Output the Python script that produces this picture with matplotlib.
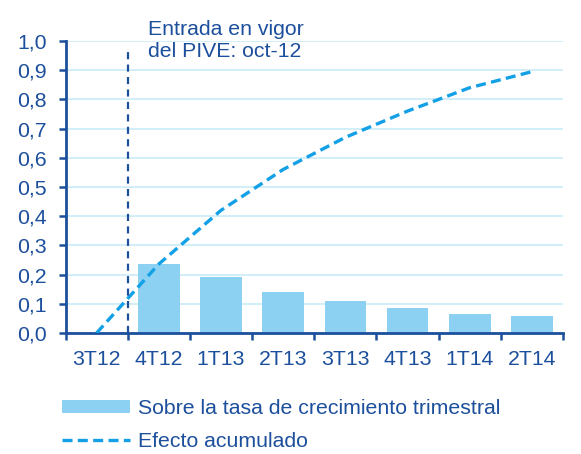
import matplotlib.pyplot as plt
from matplotlib.ticker import FixedLocator, FuncFormatter

plt.rcParams["font.family"] = ["Liberation Sans", "DejaVu Sans"]

# Datos
trimestres = ["3T12", "4T12", "1T13", "2T13", "3T13", "4T13", "1T14", "2T14"]
tasa_trimestral = [None, 0.236, 0.191, 0.140, 0.108, 0.084, 0.064, 0.057]
efecto_acumulado = [0.0, 0.236, 0.42, 0.56, 0.67, 0.76, 0.84, 0.895]

AZUL_TEXTO = "#1C4F9C"
AZUL_BARRA = "#8CD1F2"
AZUL_LINEA = "#13A0E6"
AZUL_GRID = "#C9EBF8"
FS = 15.3

fig = plt.figure(figsize=(5.81, 4.54), dpi=100)
ax = fig.add_axes([65.5 / 581, 1 - 333 / 454, (563 - 65.5) / 581, (333 - 41) / 454])

x = list(range(len(trimestres)))
xb = [i for i, v in zip(x, tasa_trimestral) if v is not None]
vb = [v for v in tasa_trimestral if v is not None]

barras = ax.bar(xb, vb, width=0.67, color=AZUL_BARRA, zorder=2,
                label="Sobre la tasa de crecimiento trimestral")
linea, = ax.plot(x, efecto_acumulado, color=AZUL_LINEA, lw=2.4, linestyle=(0, (3, 1.6)),
                 zorder=3, label="Efecto acumulado")

# Linea vertical: entrada en vigor del PIVE
ax.plot([0.5, 0.5], [0, 0.98], color=AZUL_TEXTO, lw=1.6,
        linestyle=(0, (3.2, 2.4)), zorder=3)
ax.text(0.82, 1.073, "Entrada en vigor\ndel PIVE: oct-12", color=AZUL_TEXTO,
        fontsize=FS, ha="left", va="top", linespacing=1.2,
        transform=ax.transData, clip_on=False)

ax.set_xlim(-0.5, len(trimestres) - 0.5)
ax.set_ylim(0, 1.0)
ax.set_yticks([i / 10 for i in range(11)])
ax.yaxis.set_major_formatter(FuncFormatter(lambda v, p: f"{v:.1f}".replace(".", ",")))
ax.yaxis.grid(True, color=AZUL_GRID, lw=1.2, zorder=0)
ax.set_axisbelow(True)

ax.set_xticks(x)
ax.set_xticklabels(trimestres)
ax.xaxis.set_minor_locator(FixedLocator([i - 0.5 for i in range(len(trimestres) + 1)]))
ax.tick_params(axis="x", which="major", length=0, pad=12, labelsize=FS, colors=AZUL_TEXTO)
ax.tick_params(axis="x", which="minor", length=5, width=1.8, color=AZUL_TEXTO, direction="out")
ax.tick_params(axis="y", length=5, width=1.8, color=AZUL_TEXTO, labelsize=FS,
               labelcolor=AZUL_TEXTO, pad=8.5)

for lado in ["top", "right"]:
    ax.spines[lado].set_visible(False)
for lado in ["left", "bottom"]:
    ax.spines[lado].set_color(AZUL_TEXTO)
    ax.spines[lado].set_linewidth(2)

fig.legend(handles=[barras, linea], loc="upper left",
           bbox_to_anchor=(62 / 581, 1 - 399 / 454), frameon=False,
           fontsize=FS, labelcolor=AZUL_TEXTO, handlelength=3.2, handleheight=0.5,
           handletextpad=0.38, labelspacing=0.64, borderaxespad=0, borderpad=0)

fig.savefig("out.png", dpi=100)
